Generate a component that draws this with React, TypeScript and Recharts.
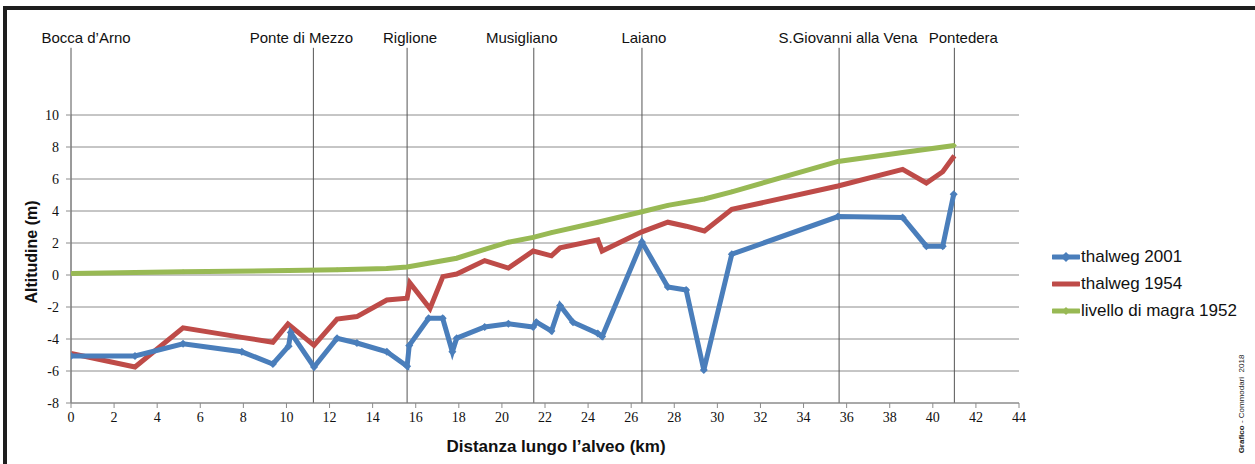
import React from 'react'
import { LineChart, Line, XAxis, YAxis, CartesianGrid, ReferenceLine, Legend } from 'recharts'

// thalweg 2001 (km, m)
const km2001 = [0, 2.97, 5.2, 7.93, 9.37, 10.1, 10.2, 11.28, 12.35, 13.27, 14.66, 15.6, 15.7, 16.6, 17.25, 17.7, 17.9, 19.2, 20.3, 21.45, 21.6, 22.3, 22.7, 23.3, 24.45, 24.65, 26.5, 27.7, 28.55, 29.37, 30.67, 35.6, 38.6, 39.7, 40.46, 40.97]
const alt2001 = [-5.06, -5.06, -4.3, -4.8, -5.56, -4.45, -3.6, -5.75, -3.95, -4.25, -4.8, -5.7, -4.4, -2.7, -2.7, -4.8, -3.95, -3.25, -3.05, -3.25, -2.95, -3.5, -1.9, -2.95, -3.65, -3.85, 2.06, -0.75, -0.94, -5.94, 1.3, 3.65, 3.6, 1.8, 1.8, 5.05]

// thalweg 1954
const km1954 = [0, 2.97, 5.2, 7.93, 9.37, 10.07, 11.28, 12.35, 13.27, 14.66, 15.6, 15.73, 16.66, 17.26, 17.9, 19.2, 20.3, 21.45, 22.3, 22.7, 24.45, 24.65, 26.5, 27.7, 28.55, 29.4, 30.67, 35.6, 38.6, 39.7, 40.46, 41.0]
const alt1954 = [-4.9, -5.75, -3.3, -3.9, -4.2, -3.06, -4.4, -2.75, -2.6, -1.56, -1.45, -0.5, -2.1, -0.1, 0.06, 0.9, 0.43, 1.5, 1.2, 1.7, 2.2, 1.5, 2.7, 3.3, 3.05, 2.75, 4.1, 5.56, 6.6, 5.75, 6.45, 7.45]

// livello di magra 1952
const kmMagra = [0, 5.2, 10.1, 12.35, 14.66, 15.6, 17.9, 19.2, 20.3, 21.45, 22.3, 24.45, 26.5, 27.7, 29.4, 30.67, 35.6, 38.6, 41.0]
const altMagra = [0.1, 0.2, 0.28, 0.33, 0.4, 0.5, 1.05, 1.6, 2.05, 2.35, 2.65, 3.3, 3.95, 4.35, 4.75, 5.2, 7.1, 7.65, 8.1]

const placeNames = ['Bocca d’Arno', 'Ponte di Mezzo', 'Riglione', 'Musigliano', 'Laiano', 'S.Giovanni alla Vena', 'Pontedera']
const placeKm = [0, 11.25, 15.6, 21.48, 26.5, 35.65, 41.0]
const placeDx = [15, -12, 3, -12, 2, 9, 9]

const xTicks = [0, 2, 4, 6, 8, 10, 12, 14, 16, 18, 20, 22, 24, 26, 28, 30, 32, 34, 36, 38, 40, 42, 44]
const yTicks = [-8, -6, -4, -2, 0, 2, 4, 6, 8, 10]

const BLUE = '#4a7ebb'
const RED = '#be4b48'
const GREEN = '#98b954'
const SANS = '"Liberation Sans", Arial, sans-serif'
const SERIF = '"Liberation Serif", "Times New Roman", serif'

const toPoints = (xs: number[], ys: number[]) => xs.map((x, i) => ({ x, y: ys[i] }))

const diamond = (r: number, color: string) => (props: any) => {
  const { cx, cy } = props
  if (cx == null || cy == null) return <g key={`n-${props.index}`} />
  return (
    <polygon
      key={`d-${props.index}`}
      points={`${cx},${cy - r} ${cx + r},${cy} ${cx},${cy + r} ${cx - r},${cy}`}
      fill={color}
    />
  )
}

const XTick = (p: any) => (
  <text x={p.x} y={p.y + 12} textAnchor="middle" style={{ fontFamily: SERIF, fontSize: 14 }} fill="#111">
    {p.payload.value}
  </text>
)

const YTick = (p: any) => (
  <text x={p.x - 5} y={p.y + 5} textAnchor="end" style={{ fontFamily: SERIF, fontSize: 14 }} fill="#111">
    {p.payload.value}
  </text>
)

const legendRows = [
  { name: 'thalweg 2001', color: BLUE, marker: 4 },
  { name: 'thalweg 1954', color: RED, marker: 0 },
  { name: 'livello di magra 1952', color: GREEN, marker: 3 },
]

function LegendBox() {
  return (
    <div style={{ fontFamily: SANS, fontSize: 17, color: '#111' }}>
      {legendRows.map(r => (
        <div key={r.name} style={{ display: 'flex', alignItems: 'center', height: 27 }}>
          <svg width={28} height={12} style={{ marginRight: 1 }}>
            <line x1={1} y1={6} x2={27} y2={6} stroke={r.color} strokeWidth={5} strokeLinecap="round" />
            {r.marker > 0 && (
              <polygon points={`14,${6 - r.marker - 1} ${14 + r.marker + 1},6 14,${6 + r.marker + 1} ${14 - r.marker - 1},6`} fill={r.color} />
            )}
          </svg>
          <span style={{ whiteSpace: 'nowrap' }}>{r.name}</span>
        </div>
      ))}
    </div>
  )
}

export default function App() {
  return (
    <div style={{ position: 'relative', width: 1255, height: 464, background: '#fff', overflow: 'hidden' }}>
      <style>{`body{margin:0}`}</style>
      <div
        style={{
          position: 'absolute', left: 3, top: 6, width: 1248, height: 470,
          borderLeft: '4px solid #1e1e1e', borderTop: '4px solid #1e1e1e', borderRight: '4px solid #1e1e1e',
        }}
      />
      <LineChart width={1255} height={464} margin={{ top: 115, right: 236, bottom: 31, left: 11 }}>
        <CartesianGrid vertical={false} stroke="#8c8c8c" strokeWidth={1} />
        <XAxis
          type="number"
          dataKey="x"
          domain={[0, 44]}
          ticks={xTicks}
          interval={0}
          height={30}
          stroke="#8c8c8c"
          tickSize={5}
          tick={<XTick />}
          allowDataOverflow
        />
        <YAxis
          type="number"
          domain={[-8, 10]}
          ticks={yTicks}
          interval={0}
          width={60}
          stroke="#8c8c8c"
          tickSize={5}
          tick={<YTick />}
          allowDataOverflow
        />
        {placeKm.map((k, i) => (
          <ReferenceLine
            key={placeNames[i]}
            segment={[{ x: k, y: -8 }, { x: k, y: 14.2 }]}
            ifOverflow="visible"
            stroke="#555"
            strokeWidth={1}
            label={(p: any) => {
              const vb = p.viewBox || {}
              return (
                <text
                  x={(vb.x ?? 0) + (vb.width ?? 0) / 2 + placeDx[i]}
                  y={(vb.y ?? 0) - 5}
                  textAnchor="middle"
                  fontFamily={SANS}
                  fontSize={15}
                  fill="#111"
                >
                  {placeNames[i]}
                </text>
              )
            }}
          />
        ))}
        <Line
          data={toPoints(kmMagra, altMagra)}
          dataKey="y"
          name="livello di magra 1952"
          stroke={GREEN}
          strokeWidth={5}
          dot={diamond(2.5, GREEN)}
          activeDot={false}
          isAnimationActive={false}
        />
        <Line
          data={toPoints(km1954, alt1954)}
          dataKey="y"
          name="thalweg 1954"
          stroke={RED}
          strokeWidth={5}
          dot={false}
          activeDot={false}
          isAnimationActive={false}
        />
        <Line
          data={toPoints(km2001, alt2001)}
          dataKey="y"
          name="thalweg 2001"
          stroke={BLUE}
          strokeWidth={5}
          dot={diamond(4, BLUE)}
          activeDot={false}
          isAnimationActive={false}
        />
        <Legend
          layout="vertical"
          align="center"
          verticalAlign="middle"
          content={() => <LegendBox />}
          wrapperStyle={{ left: 1052, top: 243, width: 200 }}
        />
      </LineChart>
      <div
        style={{
          position: 'absolute', left: 32, top: 252, transform: 'translate(-50%, -50%) rotate(-90deg)',
          fontFamily: SANS, fontSize: 16, fontWeight: 'bold', whiteSpace: 'nowrap', color: '#111',
        }}
      >
        Altitudine (m)
      </div>
      <div
        style={{
          position: 'absolute', left: 556, top: 447, transform: 'translate(-50%, -50%)',
          fontFamily: SANS, fontSize: 17, fontWeight: 'bold', whiteSpace: 'nowrap', color: '#111',
        }}
      >
        Distanza lungo l’alveo (km)
      </div>
      <div
        style={{
          position: 'absolute', left: 1241, top: 404, transform: 'translate(-50%, -50%) rotate(-90deg)',
          fontFamily: SANS, fontSize: 8, whiteSpace: 'nowrap', color: '#222',
        }}
      >
        <b>Grafico</b> - Commodari&nbsp;&nbsp;2018
      </div>
    </div>
  )
}
